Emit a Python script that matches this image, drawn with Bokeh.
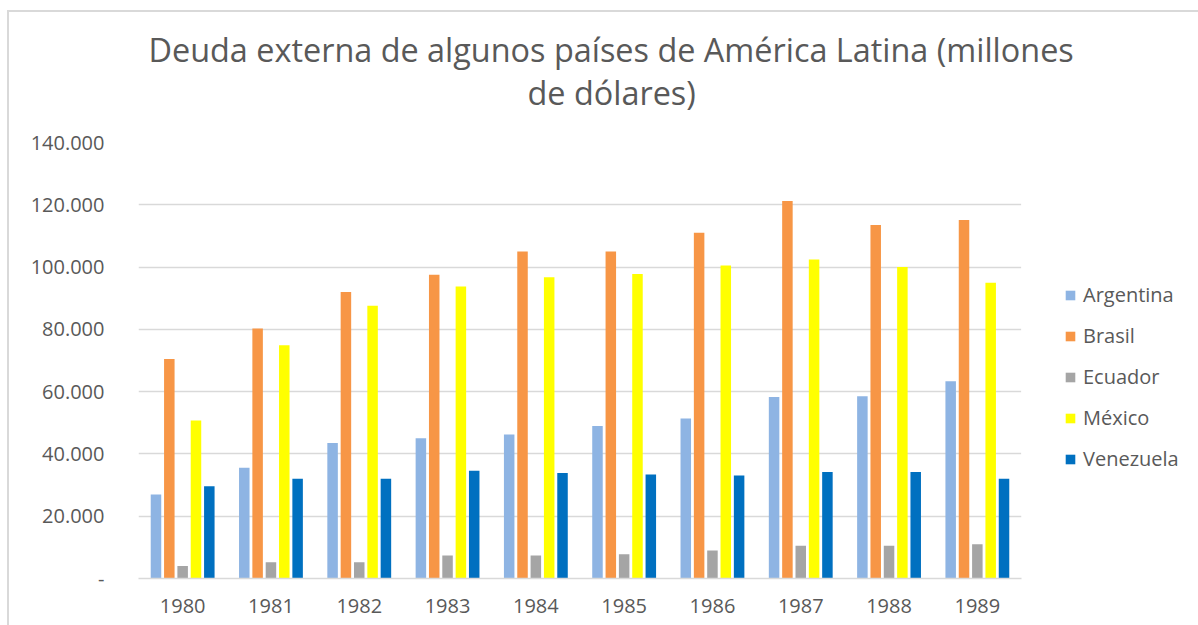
from bokeh.plotting import figure
from bokeh.models import ColumnDataSource, FactorRange, Range1d, FixedTicker, Legend, LegendItem, Title
from bokeh.transform import dodge
from bokeh.embed import file_html
from bokeh.resources import INLINE

years = ["1980", "1981", "1982", "1983", "1984", "1985", "1986", "1987", "1988", "1989"]
argentina = [27000, 35600, 43500, 45000, 46200, 49000, 51400, 58300, 58500, 63300]
brasil = [70500, 80300, 92000, 97500, 105000, 105000, 111000, 121200, 113500, 115100]
ecuador = [4000, 5200, 5200, 7400, 7400, 7800, 9000, 10500, 10500, 11000]
mexico = [50700, 74900, 87600, 93800, 96700, 97800, 100500, 102400, 100000, 95000]
venezuela = [29600, 32000, 32000, 34600, 33900, 33400, 33100, 34200, 34200, 32000]

series_names = ["Argentina", "Brasil", "Ecuador", "México", "Venezuela"]
series_cols = ["arg", "bra", "ecu", "mex", "ven"]
series_colors = ["#8EB4E3", "#F79646", "#A5A5A5", "#FFFF00", "#0070C0"]

y_ticks = [0, 20000, 40000, 60000, 80000, 100000, 120000, 140000]
y_tick_labels = ["-", "20.000", "40.000", "60.000", "80.000", "100.000", "120.000", "140.000"]

title_line1 = "Deuda externa de algunos países de América Latina (millones"
title_line2 = "de dólares)"

source = ColumnDataSource(dict(years=years, arg=argentina, bra=brasil, ecu=ecuador,
                               mex=mexico, ven=venezuela))

FONT = "Open Sans"
TXT = "#595959"

p = figure(x_range=FactorRange(*years), y_range=Range1d(0, 140000),
           width=None, height=None, frame_width=883, frame_height=436,
           output_backend="svg", toolbar_location=None,
           min_border_left=138, min_border_right=177, min_border_top=142, min_border_bottom=47)
p.title = None
p.border_fill_color = None
p.background_fill_color = None
p.styles = {"box-shadow": "inset 7px 10px 0 0 #FFFFFF, inset 9px 12px 0 0 #D9D9D9"}

t0 = Title(text=" ", align="left", text_font=FONT, text_font_size="10px",
           text_color=TXT, standoff=14)
t2 = Title(text=title_line2, align="left", text_font=FONT, text_font_size="32.4px",
           text_color=TXT, text_font_style="normal", offset=389, standoff=-3)
t1 = Title(text=title_line1, align="left", text_font=FONT, text_font_size="32.4px",
           text_color=TXT, text_font_style="normal", offset=10, standoff=-3)
p.add_layout(t0, "above")
p.add_layout(t2, "above")
p.add_layout(t1, "above")

offsets = [-0.302, -0.151, 0.0, 0.151, 0.302]
items = []
for name, col, color, off in zip(series_names, series_cols, series_colors, offsets):
    r = p.vbar(x=dodge("years", off, range=p.x_range), top=col, width=0.119,
               source=source, fill_color=color, line_color=None)
    items.append(LegendItem(label=name, renderers=[r]))

p.outline_line_color = None
p.xgrid.grid_line_color = None
p.ygrid.grid_line_color = "#D9D9D9"
p.ygrid.grid_line_width = 1.5
p.x_range.range_padding = 0
p.x_range.group_padding = 0

p.yaxis.ticker = FixedTicker(ticks=y_ticks)
p.yaxis.major_label_overrides = {t: l for t, l in zip(y_ticks, y_tick_labels)}
p.yaxis.axis_line_color = None
p.yaxis.major_tick_line_color = None
p.yaxis.minor_tick_line_color = None
p.yaxis.major_label_standoff = 28
p.yaxis.major_label_text_font = FONT
p.yaxis.major_label_text_font_size = "20px"
p.yaxis.major_label_text_color = TXT

p.xaxis.axis_line_color = "#D9D9D9"
p.xaxis.axis_line_width = 1.5
p.xaxis.major_tick_line_color = None
p.xaxis.minor_tick_line_color = None
p.xaxis.major_label_standoff = 14
p.xaxis.major_label_text_font = FONT
p.xaxis.major_label_text_font_size = "20px"
p.xaxis.major_label_text_color = TXT

legend = Legend(items=items, location="top_left", orientation="vertical",
                title=" ", title_text_font=FONT, title_text_font_size="20px", title_standoff=69,
                label_text_font=FONT, label_text_font_size="20px", label_text_color=TXT,
                glyph_width=12, glyph_height=12, label_standoff=7, label_height=20,
                spacing=14, padding=42, margin=0, border_line_color="#FFFFFF",
                border_line_width=1, background_fill_color=None)
p.add_layout(legend, "right")

open("out.html", "w").write(file_html(p, INLINE))
